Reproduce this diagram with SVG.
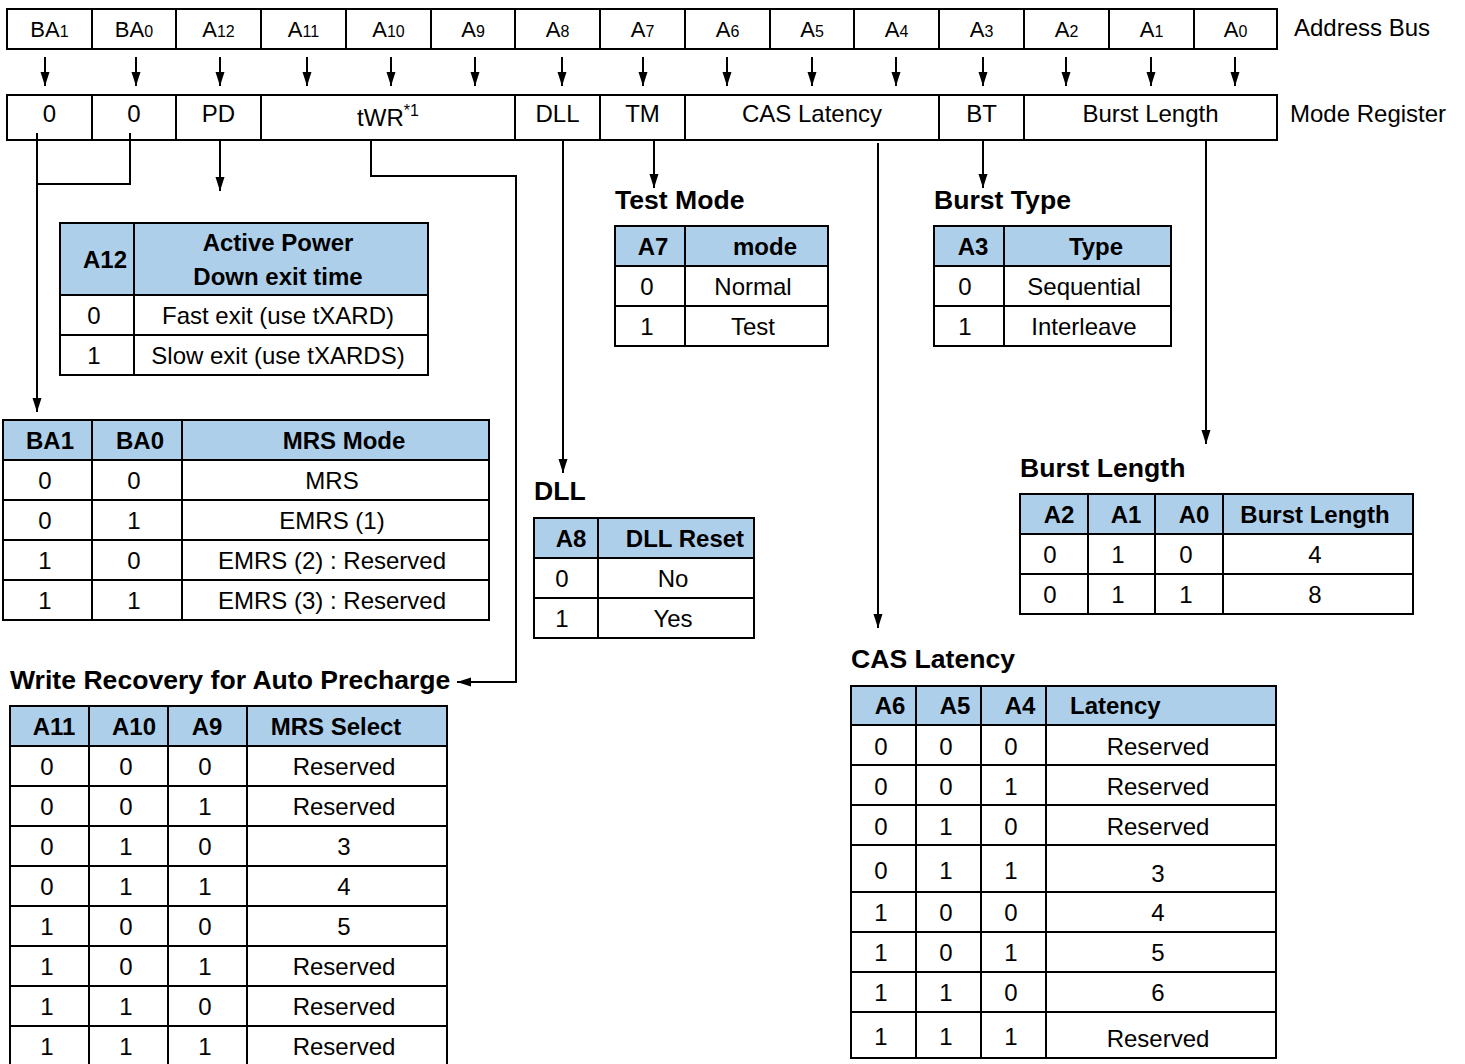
<svg xmlns="http://www.w3.org/2000/svg" width="1465" height="1064" viewBox="0 0 1465 1064">
<style>
text{font-family:"Liberation Sans",Arial,sans-serif;font-size:24px;fill:#000}
.m{text-anchor:middle}
.b{font-weight:bold}
.ttl{font-size:26.6px;font-weight:bold}
.ab{font-size:22px}
.sub{font-size:16px}
.box{fill:none;stroke:#000;stroke-width:2}
.hdr{fill:#AECFEA;stroke:none}
.ln{fill:none;stroke:#000;stroke-width:2}
</style>
<defs>
<marker id="ah" markerWidth="14" markerHeight="10" refX="14" refY="5" orient="auto" markerUnits="userSpaceOnUse"><path d="M0,0.5 L14,5 L0,9.5 z" fill="#000"/></marker>
</defs>
<rect width="1465" height="1064" fill="#fff"/>

<g id="addr-bus">
<rect class="box" x="7" y="9" width="1270" height="40"/>
<path class="ln" d="M92,9V49M176,9V49M261,9V49M346,9V49M431,9V49M515,9V49M600,9V49M685,9V49M770,9V49M854,9V49M939,9V49M1024,9V49M1109,9V49M1194,9V49"/>
<text class="m ab" x="49.5" y="37">BA<tspan class="sub">1</tspan></text>
<text class="m ab" x="134" y="37">BA<tspan class="sub">0</tspan></text>
<text class="m ab" x="218.5" y="37">A<tspan class="sub">12</tspan></text>
<text class="m ab" x="303.5" y="37">A<tspan class="sub">11</tspan></text>
<text class="m ab" x="388.5" y="37">A<tspan class="sub">10</tspan></text>
<text class="m ab" x="473" y="37">A<tspan class="sub">9</tspan></text>
<text class="m ab" x="557.5" y="37">A<tspan class="sub">8</tspan></text>
<text class="m ab" x="642.5" y="37">A<tspan class="sub">7</tspan></text>
<text class="m ab" x="727.5" y="37">A<tspan class="sub">6</tspan></text>
<text class="m ab" x="812" y="37">A<tspan class="sub">5</tspan></text>
<text class="m ab" x="896.5" y="37">A<tspan class="sub">4</tspan></text>
<text class="m ab" x="981.5" y="37">A<tspan class="sub">3</tspan></text>
<text class="m ab" x="1066.5" y="37">A<tspan class="sub">2</tspan></text>
<text class="m ab" x="1151.5" y="37">A<tspan class="sub">1</tspan></text>
<text class="m ab" x="1235.5" y="37">A<tspan class="sub">0</tspan></text>
<text x="1294" y="36">Address Bus</text>
</g>

<g id="mode-reg">
<rect class="box" x="7" y="95" width="1270" height="45"/>
<path class="ln" d="M92,95V140M176,95V140M261,95V140M515,95V140M600,95V140M685,95V140M939,95V140M1024,95V140"/>
<text class="m" x="49.5" y="122">0</text>
<text class="m" x="134" y="122">0</text>
<text class="m" x="218.5" y="122">PD</text>
<text class="m" x="388" y="126">tWR<tspan font-size="16" dy="-10">*1</tspan></text>
<text class="m" x="557.5" y="122">DLL</text>
<text class="m" x="642.5" y="122">TM</text>
<text class="m" x="812" y="122">CAS Latency</text>
<text class="m" x="981.5" y="122">BT</text>
<text class="m" x="1150.5" y="122">Burst Length</text>
<text x="1290" y="122">Mode Register</text>
</g>

<g id="connectors">
<path class="ln" marker-end="url(#ah)" d="M45,57V86"/>
<path class="ln" marker-end="url(#ah)" d="M136,57V86"/>
<path class="ln" marker-end="url(#ah)" d="M220,57V86"/>
<path class="ln" marker-end="url(#ah)" d="M307,57V86"/>
<path class="ln" marker-end="url(#ah)" d="M391,57V86"/>
<path class="ln" marker-end="url(#ah)" d="M475,57V86"/>
<path class="ln" marker-end="url(#ah)" d="M562,57V86"/>
<path class="ln" marker-end="url(#ah)" d="M643,57V86"/>
<path class="ln" marker-end="url(#ah)" d="M727,57V86"/>
<path class="ln" marker-end="url(#ah)" d="M812,57V86"/>
<path class="ln" marker-end="url(#ah)" d="M896,57V86"/>
<path class="ln" marker-end="url(#ah)" d="M983,57V86"/>
<path class="ln" marker-end="url(#ah)" d="M1066,57V86"/>
<path class="ln" marker-end="url(#ah)" d="M1151,57V86"/>
<path class="ln" marker-end="url(#ah)" d="M1235,57V86"/>
<path class="ln" marker-end="url(#ah)" d="M37,133V412"/>
<path class="ln" d="M130,133V184H37"/>
<path class="ln" marker-end="url(#ah)" d="M220,140V191"/>
<path class="ln" marker-end="url(#ah)" d="M371,140V176H516V682H457"/>
<path class="ln" marker-end="url(#ah)" d="M563,140V473"/>
<path class="ln" marker-end="url(#ah)" d="M654,140V188"/>
<path class="ln" marker-end="url(#ah)" d="M878,143V628"/>
<path class="ln" marker-end="url(#ah)" d="M983,140V188"/>
<path class="ln" marker-end="url(#ah)" d="M1206,140V444"/>
</g>

<g id="tbl-pd">
<rect class="hdr" x="60" y="223" width="368" height="72"/>
<rect class="box" x="60" y="223" width="368" height="152"/>
<path class="ln" d="M60,295H428M60,335H428M134,223V375"/>
<text class="m b" x="105" y="268">A12</text>
<text class="m b" x="278" y="251">Active Power</text>
<text class="m b" x="278" y="285">Down exit time</text>
<text class="m" x="94" y="324">0</text>
<text class="m" x="278" y="324">Fast exit (use tXARD)</text>
<text class="m" x="94" y="364">1</text>
<text class="m" x="278" y="364">Slow exit (use tXARDS)</text>
</g>

<g id="tbl-mrs">
<rect class="hdr" x="3" y="420" width="486" height="40"/>
<rect class="box" x="3" y="420" width="486" height="200"/>
<path class="ln" d="M3,460H489M3,500H489M3,540H489M3,580H489M92,420V620M182,420V620"/>
<text class="m b" x="50" y="449">BA1</text>
<text class="m b" x="140" y="449">BA0</text>
<text class="m b" x="344" y="449">MRS Mode</text>
<text class="m" x="45" y="489">0</text><text class="m" x="134" y="489">0</text><text class="m" x="332" y="489">MRS</text>
<text class="m" x="45" y="529">0</text><text class="m" x="134" y="529">1</text><text class="m" x="332" y="529">EMRS (1)</text>
<text class="m" x="45" y="569">1</text><text class="m" x="134" y="569">0</text><text class="m" x="332" y="569">EMRS (2) : Reserved</text>
<text class="m" x="45" y="609">1</text><text class="m" x="134" y="609">1</text><text class="m" x="332" y="609">EMRS (3) : Reserved</text>
</g>

<g id="tbl-wr">
<text class="ttl" x="10" y="689">Write Recovery for Auto Precharge</text>
<rect class="hdr" x="10" y="706" width="437" height="40"/>
<rect class="box" x="10" y="706" width="437" height="362"/>
<path class="ln" d="M10,746H447M10,786H447M10,826H447M10,866H447M10,906H447M10,946H447M10,986H447M10,1026H447M89,706V1068M168,706V1068M247,706V1068"/>
<text class="m b" x="54" y="735">A11</text>
<text class="m b" x="134" y="735">A10</text>
<text class="m b" x="207" y="735">A9</text>
<text class="m b" x="336" y="735">MRS Select</text>
<text class="m" x="47" y="775">0</text><text class="m" x="126" y="775">0</text><text class="m" x="205" y="775">0</text><text class="m" x="344" y="775">Reserved</text>
<text class="m" x="47" y="815">0</text><text class="m" x="126" y="815">0</text><text class="m" x="205" y="815">1</text><text class="m" x="344" y="815">Reserved</text>
<text class="m" x="47" y="855">0</text><text class="m" x="126" y="855">1</text><text class="m" x="205" y="855">0</text><text class="m" x="344" y="855">3</text>
<text class="m" x="47" y="895">0</text><text class="m" x="126" y="895">1</text><text class="m" x="205" y="895">1</text><text class="m" x="344" y="895">4</text>
<text class="m" x="47" y="935">1</text><text class="m" x="126" y="935">0</text><text class="m" x="205" y="935">0</text><text class="m" x="344" y="935">5</text>
<text class="m" x="47" y="975">1</text><text class="m" x="126" y="975">0</text><text class="m" x="205" y="975">1</text><text class="m" x="344" y="975">Reserved</text>
<text class="m" x="47" y="1015">1</text><text class="m" x="126" y="1015">1</text><text class="m" x="205" y="1015">0</text><text class="m" x="344" y="1015">Reserved</text>
<text class="m" x="47" y="1055">1</text><text class="m" x="126" y="1055">1</text><text class="m" x="205" y="1055">1</text><text class="m" x="344" y="1055">Reserved</text>
</g>

<g id="tbl-tm">
<text class="ttl" x="615" y="209">Test Mode</text>
<rect class="hdr" x="615" y="226" width="213" height="40"/>
<rect class="box" x="615" y="226" width="213" height="120"/>
<path class="ln" d="M615,266H828M615,306H828M685,226V346"/>
<text class="m b" x="653" y="255">A7</text>
<text class="m b" x="765" y="255">mode</text>
<text class="m" x="647" y="295">0</text><text class="m" x="753" y="295">Normal</text>
<text class="m" x="647" y="335">1</text><text class="m" x="753" y="335">Test</text>
</g>

<g id="tbl-bt">
<text class="ttl" x="934" y="209">Burst Type</text>
<rect class="hdr" x="934" y="226" width="237" height="40"/>
<rect class="box" x="934" y="226" width="237" height="120"/>
<path class="ln" d="M934,266H1171M934,306H1171M1004,226V346"/>
<text class="m b" x="973" y="255">A3</text>
<text class="m b" x="1096" y="255">Type</text>
<text class="m" x="965" y="295">0</text><text class="m" x="1084" y="295">Sequential</text>
<text class="m" x="965" y="335">1</text><text class="m" x="1084" y="335">Interleave</text>
</g>

<g id="tbl-dll">
<text class="ttl" x="534" y="500">DLL</text>
<rect class="hdr" x="534" y="518" width="220" height="40"/>
<rect class="box" x="534" y="518" width="220" height="120"/>
<path class="ln" d="M534,558H754M534,598H754M598,518V638"/>
<text class="m b" x="571" y="547">A8</text>
<text class="m b" x="685" y="547">DLL Reset</text>
<text class="m" x="562" y="587">0</text><text class="m" x="673" y="587">No</text>
<text class="m" x="562" y="627">1</text><text class="m" x="673" y="627">Yes</text>
</g>

<g id="tbl-bl">
<text class="ttl" x="1020" y="477">Burst Length</text>
<rect class="hdr" x="1020" y="494" width="393" height="40"/>
<rect class="box" x="1020" y="494" width="393" height="120"/>
<path class="ln" d="M1020,534H1413M1020,574H1413M1088,494V614M1155,494V614M1223,494V614"/>
<text class="m b" x="1059" y="523">A2</text>
<text class="m b" x="1126" y="523">A1</text>
<text class="m b" x="1194" y="523">A0</text>
<text class="m b" x="1315" y="523">Burst Length</text>
<text class="m" x="1050" y="563">0</text><text class="m" x="1118" y="563">1</text><text class="m" x="1186" y="563">0</text><text class="m" x="1315" y="563">4</text>
<text class="m" x="1050" y="603">0</text><text class="m" x="1118" y="603">1</text><text class="m" x="1186" y="603">1</text><text class="m" x="1315" y="603">8</text>
</g>

<g id="tbl-cl">
<text class="ttl" x="851" y="668">CAS Latency</text>
<rect class="hdr" x="851" y="686" width="425" height="39"/>
<rect class="box" x="851" y="686" width="425" height="372"/>
<path class="ln" d="M851,725H1276M851,765H1276M851,805H1276M851,845H1276M851,892H1276M851,932H1276M851,972H1276M851,1012H1276M916,686V1058M981,686V1058M1046,686V1058"/>
<text class="m b" x="890" y="714">A6</text>
<text class="m b" x="955" y="714">A5</text>
<text class="m b" x="1020" y="714">A4</text>
<text class="b" x="1070" y="714">Latency</text>
<text class="m" x="881" y="755">0</text><text class="m" x="946" y="755">0</text><text class="m" x="1011" y="755">0</text><text class="m" x="1158" y="755">Reserved</text>
<text class="m" x="881" y="795">0</text><text class="m" x="946" y="795">0</text><text class="m" x="1011" y="795">1</text><text class="m" x="1158" y="795">Reserved</text>
<text class="m" x="881" y="835">0</text><text class="m" x="946" y="835">1</text><text class="m" x="1011" y="835">0</text><text class="m" x="1158" y="835">Reserved</text>
<text class="m" x="881" y="879">0</text><text class="m" x="946" y="879">1</text><text class="m" x="1011" y="879">1</text><text class="m" x="1158" y="882">3</text>
<text class="m" x="881" y="921">1</text><text class="m" x="946" y="921">0</text><text class="m" x="1011" y="921">0</text><text class="m" x="1158" y="921">4</text>
<text class="m" x="881" y="961">1</text><text class="m" x="946" y="961">0</text><text class="m" x="1011" y="961">1</text><text class="m" x="1158" y="961">5</text>
<text class="m" x="881" y="1001">1</text><text class="m" x="946" y="1001">1</text><text class="m" x="1011" y="1001">0</text><text class="m" x="1158" y="1001">6</text>
<text class="m" x="881" y="1045">1</text><text class="m" x="946" y="1045">1</text><text class="m" x="1011" y="1045">1</text><text class="m" x="1158" y="1047">Reserved</text>
</g>
</svg>
